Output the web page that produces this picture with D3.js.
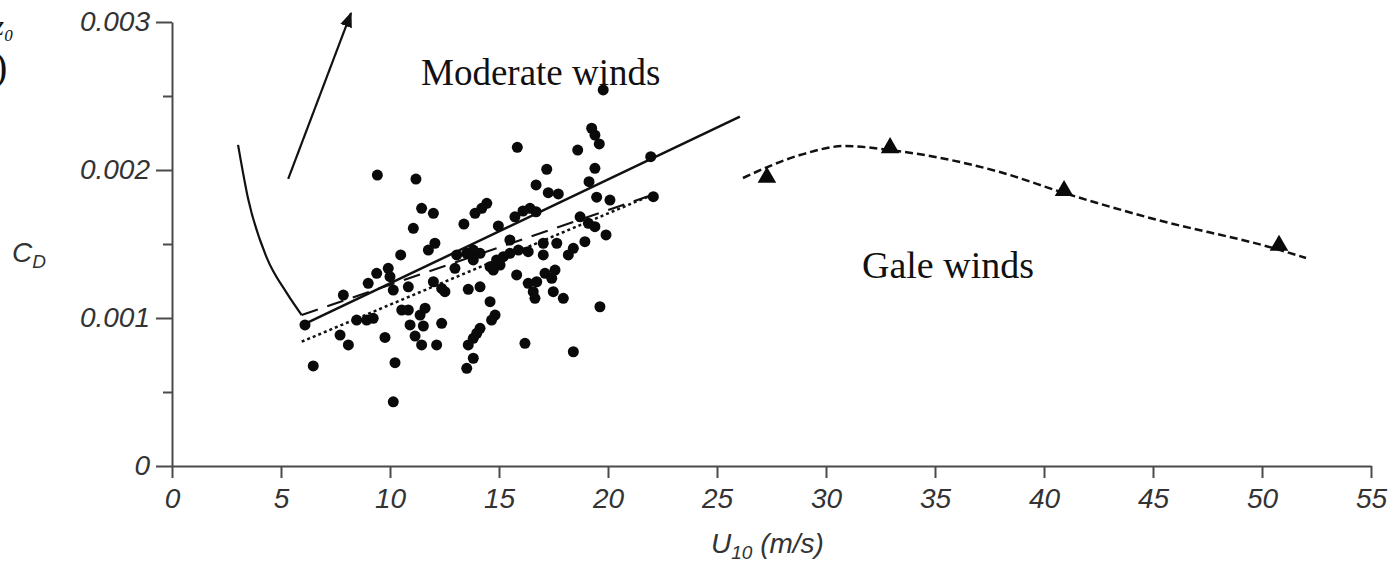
<!DOCTYPE html>
<html>
<head>
<meta charset="utf-8">
<script src="https://cdn.jsdelivr.net/npm/d3@7"></script>
<style>
    body { margin: 0; background: #fff; }
    svg { display: block; }
    .tick text { font-family: "Liberation Sans", Arial, sans-serif; font-style: italic; font-size: 28px; fill: #333; }
    .serif { font-family: "Liberation Serif", "Times New Roman", serif; fill: #111; }
</style>
</head>
<body>
<div id="chart"></div>
<script>
// x ticks (m/s) and y ticks (C_D)
var xTicks = [0, 5, 10, 15, 20, 25, 30, 35, 40, 45, 50, 55];
var yTicks = [0, 0.001, 0.002, 0.003];
var yMinorTicks = [0.0005, 0.0015, 0.0025];

// moderate-wind observations
var obsU = [19.78, 19.25, 19.40, 19.60, 18.61, 15.84, 21.96, 9.42, 11.19, 17.19,
    19.40, 19.13, 16.70, 17.26, 17.72, 19.48, 20.09, 22.08, 14.44, 14.21,
    13.90, 11.45, 11.99, 11.07, 13.39, 14.97, 15.73, 16.42, 16.10, 16.70,
    18.72, 19.10, 19.40, 19.91, 18.94, 18.41, 18.18, 17.65, 17.03, 17.03,
    16.34, 15.89, 15.50, 15.50, 15.20, 14.89, 14.74, 15.05, 15.81, 14.13,
    13.82, 13.52, 13.06, 13.82, 12.98, 12.06, 11.76, 10.49, 9.92, 9.39,
    9.00, 10.00, 10.15, 10.84, 11.99, 12.52, 13.59, 14.13, 7.86, 6.10,
    8.47, 8.93, 9.23, 7.71, 8.09, 9.77, 10.23, 6.48, 10.15, 10.54,
    10.84, 11.61, 11.38, 10.92, 11.53, 11.15, 11.45, 12.14, 12.37, 14.59,
    14.82, 14.66, 14.13, 13.98, 13.82, 13.59, 13.82, 13.52, 16.19, 18.41,
    19.63, 16.34, 16.73, 16.57, 16.65, 17.11, 17.57, 17.42, 17.49, 17.95,
    14.59, 12.37];
var obsCD = [2.541, 2.282, 2.236, 2.176, 2.135, 2.153, 2.090, 1.966, 1.939, 2.005,
    2.011, 1.921, 1.899, 1.847, 1.838, 1.816, 1.797, 1.820, 1.775, 1.741,
    1.707, 1.741, 1.707, 1.606, 1.635, 1.622, 1.684, 1.741, 1.723, 1.718,
    1.684, 1.640, 1.617, 1.561, 1.516, 1.471, 1.426, 1.505, 1.505, 1.426,
    1.448, 1.459, 1.527, 1.437, 1.414, 1.392, 1.324, 1.358, 1.291, 1.437,
    1.459, 1.437, 1.426, 1.392, 1.336, 1.505, 1.459, 1.426, 1.336, 1.302,
    1.234, 1.279, 1.189, 1.211, 1.245, 1.178, 1.194, 1.211, 1.155, 0.953,
    0.986, 0.986, 0.998, 0.885, 0.818, 0.869, 0.698, 0.676, 0.434, 1.054,
    1.054, 1.066, 1.020, 0.953, 0.946, 0.878, 0.818, 0.818, 0.964, 1.110,
    1.020, 0.986, 0.930, 0.897, 0.863, 0.818, 0.728, 0.660, 0.829, 0.772,
    1.076, 1.234, 1.245, 1.178, 1.133, 1.302, 1.324, 1.268, 1.178, 1.133,
    1.347, 1.200].map(function(v) { return v / 1000; });

// gale-wind observations (triangles)
var galeU = [27.29, 32.94, 40.92, 50.78];
var galeCD = [0.00195, 0.00215, 0.00186, 0.00149];

// fitted curves
var lowWindU = [3.03, 3.50, 4.34, 5.26, 5.95];
var lowWindCD = [0.00217, 0.00180, 0.00141, 0.00117, 0.00102];
var solidFitU = [5.95, 26.05];
var solidFitCD = [0.00095, 0.00236];
var dashFitU = [5.95, 22.0];
var dashFitCD = [0.00102, 0.00183];
var dotFitU = [5.95, 22.0];
var dotFitCD = [0.00084, 0.00183];
var galeFitU = [26.19, 28.81, 30.87, 32.94, 37.98, 40.92, 44.86, 50.83, 52.02];
var galeFitCD = [0.001946, 0.002101, 0.002162, 0.002135, 0.001986, 0.001845, 0.001676, 0.001459, 0.001405];
var arrowU = [5.33, 8.21];
var arrowCD = [0.00194, 0.00306];

function zip(a, b) {
    return a.map(function(v, i) { return [v, b[i]]; });
}

var width = 1394, height = 565;

var svg = d3.select('#chart')
    .append('svg')
    .attr('width', width)
    .attr('height', height);

var xScale = d3.scaleLinear().domain([0, 55]).range([172, 1371]);
var yScale = d3.scaleLinear().domain([0, 0.003]).range([466, 22]);

// axes
svg.append('g')
    .attr('transform', 'translate(172,0)')
    .call(d3.axisLeft(yScale).tickValues(yTicks).tickSize(16).tickSizeOuter(0).tickPadding(6)
        .tickFormat(function(d) { return d === 0 ? '0' : d3.format('.3f')(d); }));

svg.append('g')
    .attr('transform', 'translate(172,0)')
    .call(d3.axisLeft(yScale).tickValues(yMinorTicks).tickSize(9).tickFormat(''))
    .select('.domain').remove();

var xAxis = svg.append('g')
    .attr('transform', 'translate(0,466)')
    .call(d3.axisBottom(xScale).tickValues(xTicks).tickSize(12).tickSizeOuter(0).tickPadding(6));

svg.selectAll('.domain, .tick line')
    .attr('stroke', '#4a4a4a')
    .attr('stroke-width', 2);

xAxis.selectAll('.tick text').attr('dy', '0.85em');

// axis titles
var xTitle = svg.append('text')
    .attr('x', 711)
    .attr('y', 553)
    .attr('font-family', '"Liberation Sans", Arial, sans-serif')
    .attr('font-style', 'italic')
    .attr('font-size', 28)
    .attr('fill', '#333');
xTitle.append('tspan').text('U');
xTitle.append('tspan').attr('font-size', 19).attr('dy', 6).text('10');
xTitle.append('tspan').attr('dy', -6).text(' (m/s)');

var yTitle = svg.append('text')
    .attr('x', 12)
    .attr('y', 262)
    .attr('font-family', '"Liberation Sans", Arial, sans-serif')
    .attr('font-style', 'italic')
    .attr('font-size', 28)
    .attr('fill', '#333');
yTitle.append('tspan').text('C');
yTitle.append('tspan').attr('font-size', 19).attr('dy', 6).text('D');

// fragments of cropped text at the top left
svg.append('text').attr('class', 'serif')
    .attr('x', -7).attr('y', 35)
    .attr('font-size', 28).attr('font-style', 'italic')
    .text('z\u2080');
svg.append('text').attr('class', 'serif')
    .attr('x', -6).attr('y', 80)
    .attr('font-size', 40)
    .text(')');

// lines
var line = d3.line()
    .x(function(d) { return xScale(d[0]); })
    .y(function(d) { return yScale(d[1]); });

var smooth = d3.line()
    .x(function(d) { return xScale(d[0]); })
    .y(function(d) { return yScale(d[1]); })
    .curve(d3.curveMonotoneX);

svg.append('path')
    .datum(zip(lowWindU, lowWindCD))
    .attr('d', smooth)
    .attr('fill', 'none')
    .attr('stroke', '#111')
    .attr('stroke-width', 2.2);

svg.append('path')
    .datum(zip(solidFitU, solidFitCD))
    .attr('d', line)
    .attr('fill', 'none')
    .attr('stroke', '#111')
    .attr('stroke-width', 2.5);

svg.append('path')
    .datum(zip(dashFitU, dashFitCD))
    .attr('d', line)
    .attr('fill', 'none')
    .attr('stroke', '#111')
    .attr('stroke-width', 2.2)
    .attr('stroke-dasharray', '17,10');

svg.append('path')
    .datum(zip(dotFitU, dotFitCD))
    .attr('d', line)
    .attr('fill', 'none')
    .attr('stroke', '#111')
    .attr('stroke-width', 2.5)
    .attr('stroke-dasharray', '3,3');

svg.append('path')
    .datum(zip(galeFitU, galeFitCD))
    .attr('d', smooth)
    .attr('fill', 'none')
    .attr('stroke', '#111')
    .attr('stroke-width', 2.5)
    .attr('stroke-dasharray', '8,4');

// scatter points
svg.append('g')
    .selectAll('circle')
    .data(zip(obsU, obsCD))
    .enter()
    .append('circle')
    .attr('cx', function(d) { return xScale(d[0]); })
    .attr('cy', function(d) { return yScale(d[1]); })
    .attr('r', 5.5)
    .attr('fill', '#0a0a0a');

svg.append('g')
    .selectAll('path')
    .data(zip(galeU, galeCD))
    .enter()
    .append('path')
    .attr('d', d3.symbol(d3.symbolTriangle).size(150))
    .attr('transform', function(d) { return 'translate(' + xScale(d[0]) + ',' + yScale(d[1]) + ')'; })
    .attr('fill', '#0a0a0a');

// arrow
svg.append('defs').append('marker')
    .attr('id', 'head')
    .attr('viewBox', '0 0 10 10')
    .attr('refX', 9).attr('refY', 5)
    .attr('markerWidth', 7).attr('markerHeight', 7)
    .attr('markerUnits', 'strokeWidth')
    .attr('orient', 'auto')
    .append('path')
    .attr('d', 'M0,1 L10,5 L0,9 Z')
    .attr('fill', '#111');

svg.append('path')
    .datum(zip(arrowU, arrowCD))
    .attr('d', line)
    .attr('stroke', '#111')
    .attr('stroke-width', 2.2)
    .attr('marker-end', 'url(#head)');

// region labels
svg.append('text').attr('class', 'serif')
    .attr('x', 421).attr('y', 85)
    .attr('font-size', 37)
    .text('Moderate winds');

svg.append('text').attr('class', 'serif')
    .attr('x', 862).attr('y', 278)
    .attr('font-size', 38)
    .text('Gale winds');
</script>
</body>
</html>
